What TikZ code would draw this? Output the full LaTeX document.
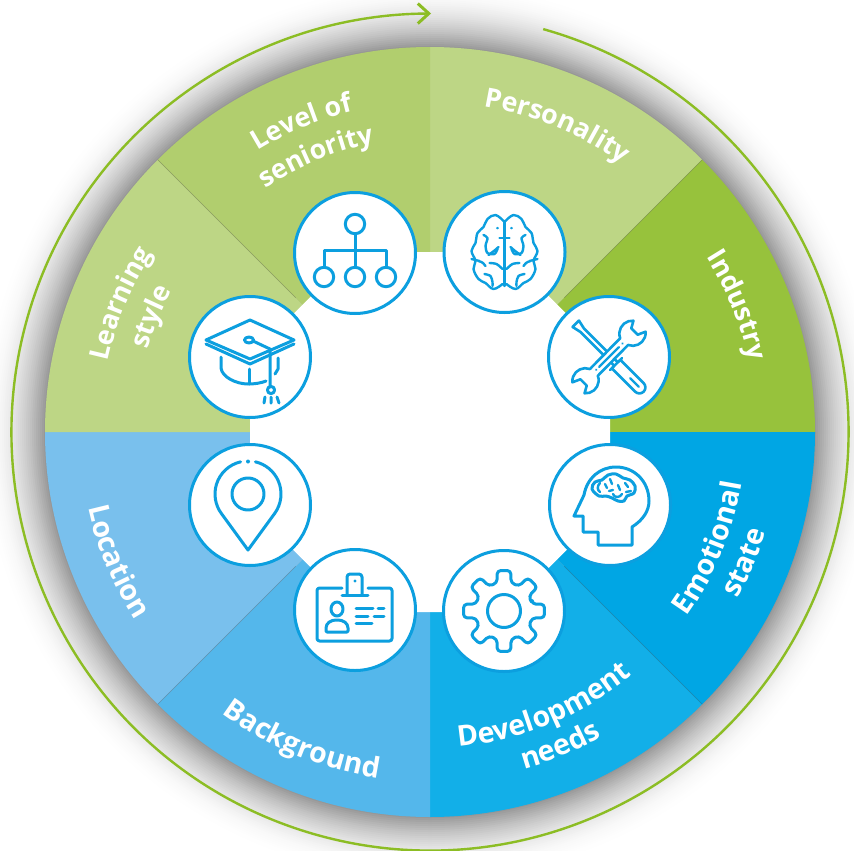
\documentclass[tikz,border=0pt]{standalone}
\usepackage{fontspec}
\setmainfont{Open Sans}
\usetikzlibrary{decorations.text,calc}
\definecolor{cpers}{HTML}{BDD685}
\definecolor{cind}{HTML}{97C23C}
\definecolor{clev}{HTML}{B1CE6E}
\definecolor{cemo}{HTML}{00A6E4}
\definecolor{cdev}{HTML}{12AFE8}
\definecolor{cbac}{HTML}{54B7EB}
\definecolor{cloc}{HTML}{79C0ED}
\definecolor{cicon}{HTML}{0C9FDF}
\definecolor{cring}{HTML}{8CBD24}
\newcommand{\lblfont}[1]{\color{white}\bfseries\fontsize{#1}{#1}\selectfont}
\newcommand{\arctext}[5]{%
  \pgfmathsetmacro\sa{#1-#3*50}\pgfmathsetmacro\ea{#1+#3*50}%
  \path[decorate,decoration={text along path,text align=center,text={|\lblfont{#4}|#5}}]
    (\sa:#2) arc[start angle=\sa,end angle=\ea,radius=#2];%
}
\newcommand{\sector}[2]{\fill[#2] (0,0) -- (#1:385) arc[start angle=#1,delta angle=45,radius=385] -- cycle;}
\tikzset{
  x=1pt,y=1pt,
  ringline/.style={draw=cring,line width=2.4pt},
  seam/.style={draw=black,draw opacity=.22,line width=.6pt},
  iconring/.style={circle,draw=cicon,fill=white,line width=3pt,minimum size=121pt,inner sep=0pt},
  ico/.style={draw=cicon,line width=3pt,line cap=round,line join=round},
  icot/.style={draw=cicon,line width=2.4pt,line cap=round,line join=round},
  iconspace/.style={shift={(#1)},yscale=-1},
}
\begin{document}
\begin{tikzpicture}
\useasboundingbox (0,0) rectangle (854,-851);
\clip (0,0) rectangle (854,-851);
\fill[white] (0,0) rectangle (854,-851);
\begin{scope}[shift={(430,-432)}]
  % soft halo
  \foreach \r in {450,448,...,386}{
    \pgfmathsetmacro\lev{min(100,max(0,42*(1-(\r-385)/65)^2))}
    \fill[black!\lev!white] (0,0) circle[radius=\r];
  }
  % sectors
  \sector{45}{cpers}
  \sector{0}{cind}
  \sector{-45}{cemo}
  \sector{-90}{cdev}
  \sector{-135}{cbac}
  \sector{180}{cloc}
  \sector{135}{cpers}
  \sector{90}{clev}
  \foreach \a in {45,135,225,315}{\draw[seam] (\a:190) -- (\a:385);}
  % white octagon
  \fill[white] (22.5:194.84) \foreach \a in {67.5,112.5,...,337.5}{ -- (\a:194.84)} -- cycle;
  % outer ring arrow
  \coordinate (ringstart) at (74.3:418.5);
  \coordinate (ringend) at (90.3:418.5);
  \draw[ringline] (ringstart) arc[start angle=74.3,end angle=-269.7,radius=418.5];
  \draw[cring,line width=3pt] ($(ringend)+(-10,10)$) -- ($(ringend)+(1,0)$) -- ($(ringend)+(-10,-10)$);
  % labels
  \arctext{67.5}{330}{-1}{26.8}{Personality}
  \arctext{22.5}{327}{-1}{26.8}{Industry}
  \arctext{-22.5}{316}{1}{28.5}{Emotional}
  \arctext{-22.5}{350}{1}{28.5}{state}
  \arctext{-67.5}{316}{1}{28.5}{Development}
  \arctext{-67.5}{350}{1}{28.5}{needs}
  \arctext{-112.5}{350}{1}{28.5}{Background}
  \arctext{-157.5}{350}{1}{28.5}{Location}
  \arctext{157.5}{330}{-1}{26.8}{Learning}
  \arctext{157.5}{294}{-1}{26.8}{style}
  \arctext{112.5}{330}{-1}{26.8}{Level of}
  \arctext{112.5}{294}{-1}{26.8}{seniority}
\end{scope}
% icon circles
\node[iconring] (level) at (355,-253) {};
\node[iconring] (learn) at (250,-357) {};
\node[iconring] (pers) at (504.5,-252) {};
\node[iconring] (indu) at (609,-357) {};
\node[iconring] (loca) at (250,-505) {};
\node[iconring] (back) at (355,-610) {};
\node[iconring] (emot) at (610,-505) {};
\node[iconring] (deve) at (504,-611) {};
% hierarchy
\begin{scope}[iconspace=level]
  \draw[ico] (0,-29) circle[radius=9.7];
  \foreach \x in {-31,0,31}{\draw[ico] (\x,24) circle[radius=9.7];}
  \draw[ico,line cap=butt] (0,-19) -- (0,14) (-31,14) -- (-31,-3) -- (31,-3) -- (31,14);
\end{scope}
% graduation cap
\begin{scope}[iconspace=learn]
  \draw[ico] (0,-37) -- (44,-17) -- (0,2) -- (-44,-17) -- cycle;
  \draw[ico] (-44,-13) -- (0,7) -- (44,-13);
  \draw[ico] (-1,-17) ellipse[x radius=4.5,y radius=3];
  \draw[ico] (3,-16) -- (20,-8) -- (20,30);
  \draw[ico] (21,33) circle[radius=3.6];
  \draw[ico] (15,40) -- (14,46) (21,40) -- (21,46) (27,40) -- (29,46);
  \draw[ico] (-29,0) -- (-29,11) .. controls (-28,20) and (-14,27) .. (-2,27) .. controls (5,27) and (11,26) .. (16,24);
  \draw[ico] (-1,12) -- (-1,27);
  \draw[ico] (28,1) -- (28,12) -- (25,17);
\end{scope}
% brain
\begin{scope}[iconspace=pers]
  \foreach \s in {1,-1}{
  \begin{scope}[xscale=\s]
    \draw[icot] plot[smooth,tension=.65] coordinates {(-1,-31) (-9,-37) (-17,-33) (-21,-25) (-27,-19) (-29,-9) (-33,-1) (-29,9) (-31,17) (-26,27) (-19,31) (-11,37) (-2,32)};
    \draw[icot] plot[smooth] coordinates {(-21,-17) (-17,-14) (-19,-6) (-17,1) (-10,2) (-7,-3)};
    \draw[icot] (-16,3) .. controls (-12,0) and (-9,-2) .. (-6,-5);
    \draw[icot] (-33,7) -- (-25,9) (-26,9) .. controls (-22,10) and (-20,12) .. (-19,14);
    \draw[icot] plot[smooth] coordinates {(-2,17) (-8,12) (-15,11)};
    \draw[icot] plot[smooth] coordinates {(-20,22) (-14,24) (-12,30) (-12,34)};
    \draw[icot] (-7,-24) -- (-7,-23.8);
  \end{scope}}
  \draw[icot] (0,-31) -- (0,34) (-5,-14) -- (5,-14);
\end{scope}
% tools
\begin{scope}[iconspace=indu]
  \begin{scope}[rotate=45]
    \draw[icot,line width=2.6pt] (-47,-4.5) -- (-47,4.5) -- (-38,2.5) -- (10,2.5) -- (10,6) -- (43,6) arc[start angle=90,end angle=-90,radius=6] -- (10,-6) -- (10,-2.5) -- (-38,-2.5) -- cycle;
    \draw[icot] (10,-8.5) -- (10,8.5);
    \draw[icot] (30,0) -- (42,0);
  \end{scope}
  \begin{scope}[rotate=-45]
    \draw[icot,fill=white,line width=2.6pt] (22,5) arc[start angle=155.6,end angle=40,radius=13] -- (36,4.5) -- (36,-4.5) -- (42.96,-8.36) arc[start angle=-40,end angle=-155.6,radius=13] -- (-22,-5) arc[start angle=-24.4,end angle=-140,radius=13] -- (-36,-4.5) -- (-36,4.5) -- (-42.96,8.36) arc[start angle=140,end angle=24.4,radius=13] -- cycle;
    \draw[icot] (-14,0) -- (14,0) (-18,0) -- (-18,.1) (19,0) -- (19,.1);
  \end{scope}
\end{scope}
% location pin
\begin{scope}[iconspace=loca,shift={(-2,-11)}]
  \draw[ico] (0,0) circle[radius=16];
  \draw[ico] (257:33) arc[start angle=257,end angle=143.9,radius=33] -- (0,56) -- (36.1:33) arc[start angle=36.1,end angle=-77,radius=33];
  \fill[cicon] (0,-32.5) circle[radius=2];
\end{scope}
% badge
\begin{scope}[iconspace=back]
  \draw[ico,rounded corners=2.5] (-13,-22) -- (-38,-22) -- (-38,31) -- (37,31) -- (37,-22) -- (13,-22);
  \draw[ico,rounded corners=3] (-8,-15) -- (-8,-36) -- (7,-36) -- (7,-15);
  \draw[ico] (-13,-15) -- (13,-15);
  \fill[cicon] (0,-29) circle[radius=1.6];
  \draw[ico] (-18,-1) ellipse[x radius=6,y radius=7];
  \draw[ico,rounded corners=1] (-29,22) -- (-29,19) .. controls (-29,13) and (-24,10) .. (-18,10) .. controls (-12,10) and (-7,13) .. (-7,19) -- (-7,22) -- cycle;
  \draw[ico] (1,-2) -- (18,-2) (23,-2) -- (29,-2) (1,6) -- (13,6) (19,6) -- (29,6) (1,13) -- (17,13);
\end{scope}
% head
\begin{scope}[iconspace=emot]
  \draw[ico] (-12,40) -- (22,40) -- (22,22) .. controls (33,15) and (39,6) .. (39,-4) .. controls (39,-24) and (24,-38) .. (6,-38) .. controls (-10,-38) and (-23,-27) .. (-26,-10) -- (-36,11) -- (-27,11) -- (-27,27) -- (-12,27) -- cycle;
  \draw[ico] plot[smooth cycle,tension=.6] coordinates {(-18,-16) (-15,-23) (-8,-25) (-2,-30) (6,-31) (13,-27) (20,-25) (25,-19) (24,-12) (17,-9) (14,-4) (8,-4) (2,-7) (-4,-9) (-11,-9)};
  \draw[icot] (-10,-22) .. controls (-13,-19) and (-13,-15) .. (-10,-13);
  \draw[icot] (-5,-21) -- (-3,-17) (0,-26) -- (2,-21) (-1,-14) -- (3,-15);
  \draw[icot] (3,-11) .. controls (4,-7) and (10,-7) .. (12,-11);
  \draw[icot] (8,-20) -- (10,-15) (15,-22) -- (18,-18) (16,-13) -- (21,-14);
\end{scope}
% gear
\begin{scope}[iconspace=deve]
  \draw[ico] (0,0) circle[radius=16.5];
  \draw[ico,rounded corners=3.5] (-14:29) \foreach \a in {0,45,...,315}{ -- (\a-14:29) -- (\a-9.5:41) -- (\a+9.5:41) -- (\a+14:29)} -- cycle;
\end{scope}
\end{tikzpicture}
\end{document}
